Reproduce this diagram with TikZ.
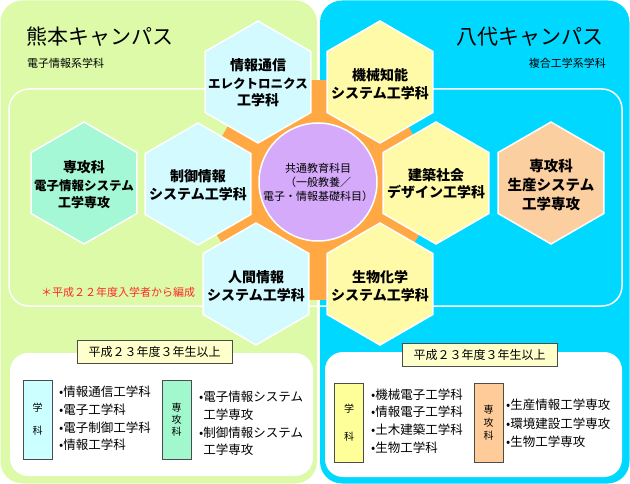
\documentclass[tikz,border=0pt]{standalone}
\usepackage{fontspec}
\setmainfont{Noto Sans CJK JP}
\usepackage{xcolor}
\usetikzlibrary{shapes.geometric}

\definecolor{panelgreen}{HTML}{DCFAA8}
\definecolor{panelcyan}{HTML}{00D8FF}
\definecolor{hexcyan}{HTML}{D2FAFF}
\definecolor{hexmint}{HTML}{A5F8D5}
\definecolor{hexyellow}{HTML}{FFFAA8}
\definecolor{hexpeach}{HTML}{FCCFA0}
\definecolor{huborange}{HTML}{FFA844}
\definecolor{hubpurple}{HTML}{D5AAFA}
\definecolor{yearyellow}{HTML}{FFFFCC}
\definecolor{catcyan}{HTML}{CCFFFF}
\definecolor{catmint}{HTML}{A0F8CC}
\definecolor{catyellow}{HTML}{FFFF99}
\definecolor{catpeach}{HTML}{FFCC99}
\definecolor{notered}{HTML}{FF2A2A}

\begin{document}
\begin{tikzpicture}[
  x=1pt, y=-1pt,
  panel/.style={rounded corners=22pt},
  hexcell/.style={regular polygon, regular polygon sides=6, shape border rotate=30, minimum size=122pt, inner sep=0pt, draw=white, line width=1.5pt},
  hextext/.style={font=\fontsize{14}{17.5}\selectfont\bfseries, align=center, inner sep=0pt},
  campus/.style={font=\fontsize{21}{24}\selectfont, inner sep=0pt},
  deptname/.style={font=\fontsize{11}{13}\selectfont, inner sep=0pt},
  listpanel/.style={fill=white, rounded corners=18pt, inner sep=0pt},
  yearbox/.style={draw=black!70, fill=yearyellow, line width=0.7pt, minimum width=155pt, minimum height=23pt, inner sep=0pt, font=\fontsize{12}{14}\selectfont},
  catbox/.style={draw=black!70, line width=0.7pt, minimum width=29pt, minimum height=79pt, inner sep=0pt, align=center},
  listtext/.style={font=\fontsize{12.5}{17.7}\selectfont, align=left, inner sep=0pt, anchor=west}
]
  \useasboundingbox (0,0) rectangle (630,484);

  % campus backgrounds
  \fill[panelgreen, panel] (0.5,0.5) rectangle (317,483.5);
  \fill[panelcyan, panel] (320,0.5) rectangle (629.5,483.5);
  \draw[white, line width=1.5pt, rounded corners=20pt] (9,89) rectangle (622,306);

  \node[campus, anchor=west] (kumamoto) at (26,37) {熊本キャンパス};
  \node[deptname, anchor=west] (kumamotodept) at (27,63) {電子情報系学科};
  \node[campus, anchor=east] (yatsushiro) at (604,37) {八代キャンパス};
  \node[deptname, anchor=east] (yatsushirodept) at (606,63) {複合工学系学科};

  % hub
  \node[regular polygon, regular polygon sides=6, minimum size=254pt, inner sep=0pt, fill=huborange] (hub) at (318,190) {};

  % departments
  \node[hexcell, fill=hexcyan] (ictcell) at (258,82) {};
  \node[hextext] (ict) at (258,83) {情報通信\\{\fontsize{12.5}{17.5}\selectfont エレクトロニクス}\\工学科};
  \node[hexcell, fill=hexyellow] (mechcell) at (380,82) {};
  \node[hextext] (mech) at (380,84) {機械知能\\システム工学科};
  \node[hexcell, fill=hexmint] (kgradcell) at (84,183) {};
  \node[hextext] (kgrad) at (84,185) {専攻科\\{\fontsize{12.5}{17.5}\selectfont 電子情報システム}\\{\fontsize{13}{17.5}\selectfont 工学専攻}};
  \node[hexcell, fill=hexcyan] (ctrlcell) at (198,184) {};
  \node[hextext] (ctrl) at (198,185) {制御情報\\システム工学科};
  \node[hexcell, fill=hexyellow] (archcell) at (436,183) {};
  \node[hextext] (arch) at (436,183.5) {建築社会\\デザイン工学科};
  \node[hexcell, fill=hexpeach] (ygradcell) at (551,183) {};
  \node[hextext, font=\fontsize{14.5}{19}\selectfont\bfseries] (ygrad) at (551,185) {専攻科\\生産システム\\工学専攻};
  \node[hexcell, fill=hexcyan] (humancell) at (256,284) {};
  \node[hextext] (human) at (256,286) {人間情報\\システム工学科};
  \node[hexcell, fill=hexyellow] (biocell) at (380,284) {};
  \node[hextext] (bio) at (380,286) {生物化学\\システム工学科};

  \node[circle, minimum size=118pt, inner sep=0pt, fill=hubpurple, draw=white, line width=1.5pt, align=center, font=\fontsize{11}{14}\selectfont] (common) at (318,182) {共通教育科目\\（一般教養／\\電子・情報基礎科目）};

  \node[anchor=west, inner sep=0pt, text=notered, font=\fontsize{11}{13}\selectfont] (note) at (41,292) {＊平成２２年度入学者から編成};

  % courses from the third year
  \node[listpanel, minimum width=303pt, minimum height=123pt] (kumamotolist) at (161.5,414.5) {};
  \node[listpanel, minimum width=297pt, minimum height=125pt] (yatsushirolist) at (473.5,414.5) {};
  \node[yearbox] (kumamotoyear) at (154.5,351.5) {平成２３年度３年生以上};
  \node[yearbox] (yatsushiroyear) at (479.5,354.5) {平成２３年度３年生以上};

  \node[catbox, fill=catcyan, font=\fontsize{10}{23}\selectfont] (kdeptbox) at (37.5,419.5) {学\\科};
  \node[catbox, fill=catmint, font=\fontsize{10}{12}\selectfont] (kgradbox) at (176.5,419.5) {専\\攻\\科};
  \node[catbox, fill=catyellow, font=\fontsize{10}{28}\selectfont] (ydeptbox) at (349,422.5) {学\\科};
  \node[catbox, fill=catpeach, font=\fontsize{10}{13}\selectfont] (ygradbox) at (488.5,422.5) {専\\攻\\科};

  \node[listtext] (kdeptlist) at (59,418.5) {•情報通信工学科\\•電子工学科\\•電子制御工学科\\•情報工学科};
  \node[listtext] (kgradlist) at (199,423.5) {•電子情報システム\\\phantom{•}工学専攻\\•制御情報システム\\\phantom{•}工学専攻};
  \node[listtext] (ydeptlist) at (371,421) {•機械電子工学科\\•情報電子工学科\\•土木建築工学科\\•生物工学科};
  \node[listtext, font=\fontsize{12.5}{18.5}\selectfont] (ygradlist) at (506,423.5) {•生産情報工学専攻\\•環境建設工学専攻\\•生物工学専攻};

\end{tikzpicture}
\end{document}
